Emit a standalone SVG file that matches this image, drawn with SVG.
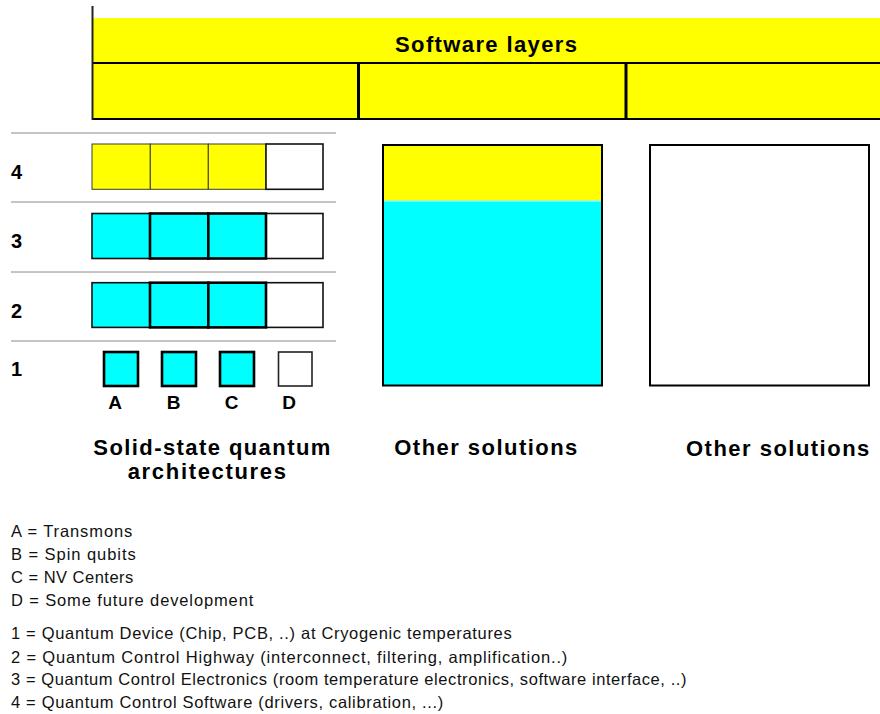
<svg xmlns="http://www.w3.org/2000/svg" width="880" height="714" viewBox="0 0 880 714">
  <style>
    .bold { font-family: "Liberation Sans", Arial, sans-serif; font-weight: bold; fill: #000; }
    .lbl { font-size: 22px; text-anchor: start; }
    .num { font-size: 20px; }
    .let { font-size: 19px; text-anchor: middle; }
    .legend { font-family: "Liberation Sans", Arial, sans-serif; font-size: 16.5px; fill: #111; }
    .sep { stroke: #8a8a8a; stroke-width: 1; }
    .yel { fill: #ffff00; }
    .cyan { fill: #00ffff; }
    .cellY { fill: #ffff00; stroke: #3a3a3a; stroke-width: 1; }
    .cellW { fill: #fff; stroke: #111; stroke-width: 1.6; }
    .cellC { fill: #00ffff; stroke: #111; stroke-width: 1.6; }
    .cellCt { fill: #00ffff; stroke: #000; stroke-width: 2.6; }
    .chip { fill: #00ffff; stroke: #000; stroke-width: 2.6; }
    .chipW { fill: #fff; stroke: #222; stroke-width: 1.6; }
    .frame { stroke: #000; stroke-width: 2; }
  </style>

  <!-- software layer band -->
  <g id="software-layers">
    <rect class="yel" x="92" y="18" width="788" height="102"/>
    <line class="frame" x1="92" y1="63" x2="880" y2="63"/>
    <line class="frame" x1="92" y1="119" x2="880" y2="119"/>
    <line x1="358.5" y1="63" x2="358.5" y2="119" stroke="#000" stroke-width="3"/>
    <line x1="626" y1="63" x2="626" y2="119" stroke="#000" stroke-width="3"/>
    <line x1="92.5" y1="6" x2="92.5" y2="120" stroke="#222" stroke-width="2"/>
    <text class="bold" x="395" y="52" font-size="22" textLength="182" lengthAdjust="spacing">Software layers</text>
  </g>

  <!-- row separators and level numbers -->
  <g id="levels">
    <line class="sep" x1="11" y1="133" x2="336" y2="133"/>
    <line class="sep" x1="11" y1="202" x2="336" y2="202"/>
    <line class="sep" x1="11" y1="272" x2="336" y2="272"/>
    <line class="sep" x1="11" y1="341" x2="336" y2="341"/>
    <text class="bold num" x="11" y="179.3">4</text>
    <text class="bold num" x="11" y="248.3">3</text>
    <text class="bold num" x="11" y="317.7">2</text>
    <text class="bold num" x="11" y="376">1</text>
  </g>

  <!-- level 4: software -->
  <g id="row4">
    <rect class="cellY" x="92" y="144" width="58.3" height="45.3"/>
    <rect class="cellY" x="150.3" y="144" width="58" height="45.3"/>
    <rect class="cellY" x="208.3" y="144" width="57.7" height="45.3"/>
    <rect class="cellW" x="266" y="144" width="57" height="45.3"/>
  </g>

  <!-- level 3: electronics -->
  <g id="row3">
    <rect class="cellC" x="92" y="213.5" width="58" height="45"/>
    <rect class="cellW" x="266" y="213.5" width="57" height="45"/>
    <rect class="cellCt" x="150" y="213.5" width="58.3" height="45"/>
    <rect class="cellCt" x="208.3" y="213.5" width="57.7" height="45"/>
  </g>

  <!-- level 2: control highway -->
  <g id="row2">
    <rect class="cellC" x="92" y="282.7" width="58" height="44.7"/>
    <rect class="cellW" x="266" y="282.7" width="57" height="44.7"/>
    <rect class="cellCt" x="150" y="282.7" width="58.3" height="44.7"/>
    <rect class="cellCt" x="208.3" y="282.7" width="57.7" height="44.7"/>
  </g>

  <!-- level 1: devices -->
  <g id="row1">
    <rect class="chip" x="104" y="352" width="34" height="34"/>
    <rect class="chip" x="162" y="352" width="34" height="34"/>
    <rect class="chip" x="220" y="352" width="34" height="34"/>
    <rect class="chipW" x="278.5" y="352" width="33.5" height="34"/>
    <text class="bold let" x="115" y="409.3">A</text>
    <text class="bold let" x="173.5" y="409.3">B</text>
    <text class="bold let" x="231.5" y="409.3">C</text>
    <text class="bold let" x="289" y="409.3">D</text>
  </g>

  <!-- other solution stacks -->
  <g id="other-1">
    <rect class="cyan" x="383" y="145" width="219" height="240"/>
    <rect class="yel" x="383" y="145" width="219" height="55.5"/>
    <line x1="383" y1="201" x2="602" y2="201" stroke="#e8ffff" stroke-width="0.8"/>
    <rect x="383" y="145" width="219" height="240.5" fill="none" stroke="#000" stroke-width="2"/>
  </g>
  <g id="other-2">
    <rect x="650" y="145" width="219" height="240.5" fill="#fff" stroke="#000" stroke-width="2"/>
  </g>

  <!-- column captions -->
  <g id="captions">
    <text class="bold lbl" x="93.3" y="455" textLength="237" lengthAdjust="spacing">Solid-state quantum</text>
    <text class="bold lbl" x="127.7" y="479" textLength="158.3" lengthAdjust="spacing">architectures</text>
    <text class="bold lbl" x="394.3" y="455" textLength="183" lengthAdjust="spacing">Other solutions</text>
    <text class="bold lbl" x="686" y="455.5" textLength="183.3" lengthAdjust="spacing">Other solutions</text>
  </g>

  <!-- legend -->
  <g id="legend" class="legend">
    <text x="11" y="536.7" textLength="121.3" lengthAdjust="spacing">A = Transmons</text>
    <text x="11" y="559.8" textLength="124.7" lengthAdjust="spacing">B = Spin qubits</text>
    <text x="11" y="582.7" textLength="122.3" lengthAdjust="spacing">C = NV Centers</text>
    <text x="11" y="605.8" textLength="242.3" lengthAdjust="spacing">D = Some future development</text>
    <text x="11" y="639.3" textLength="500.7" lengthAdjust="spacing">1 = Quantum Device (Chip, PCB, ..) at Cryogenic temperatures</text>
    <text x="11" y="662.5" textLength="556.3" lengthAdjust="spacing">2 = Quantum Control Highway (interconnect, filtering, amplification..)</text>
    <text x="11" y="685.3" textLength="675.5" lengthAdjust="spacing">3 = Quantum Control Electronics (room temperature electronics, software interface, ..)</text>
    <text x="11" y="708.3" textLength="432.3" lengthAdjust="spacing">4 = Quantum Control Software (drivers, calibration, ...)</text>
  </g>
</svg>
